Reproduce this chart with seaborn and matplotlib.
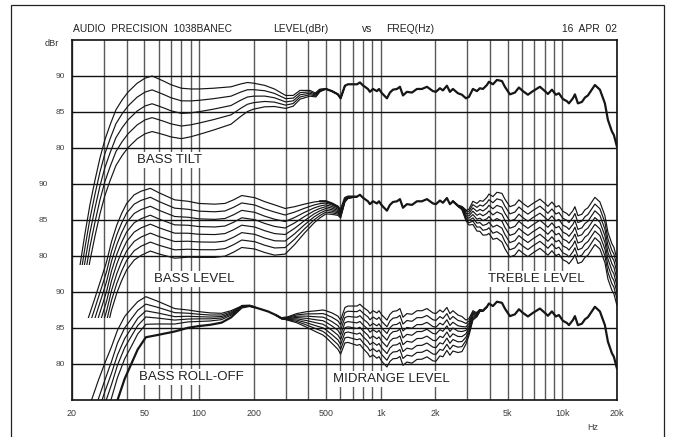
import numpy as np
import pandas as pd
import matplotlib
matplotlib.use("Agg")
import matplotlib.pyplot as plt
from matplotlib.patches import Rectangle
from matplotlib.ticker import FixedLocator, NullFormatter
import seaborn as sns

sns.set_theme(style="white")
plt.rcParams['font.family'] = ['Liberation Sans', 'DejaVu Sans']

# ------------------------------------------------------------------ data
# shared response above 500 Hz, read in the upper panel's dBr scale
BASE_F = [500, 539, 582, 602, 636, 661, 741, 769, 799, 851, 873, 907, 954, 979, 1017,
          1083, 1125, 1169, 1230, 1277, 1327, 1395, 1487, 1584, 1688, 1798, 1940, 2015,
          2120, 2202, 2316, 2406, 2500, 2664, 2802, 2948, 3062, 3220, 3388, 3520, 3656,
          3846, 3944, 4150, 4366, 4652, 4830, 5148, 5484, 5770, 6070, 6466, 6890, 7530,
          8022, 8332, 8766, 9220, 9578, 10076, 10602, 10874, 11438, 11732, 12186, 12820,
          13316, 13832, 15116, 16106, 17158, 17824, 18748, 19228, 19974]
BASE_DB = [88.2, 87.9, 87.45, 86.9, 88.65, 88.85, 88.85, 89.1, 88.7, 88.2, 87.8, 88.2,
           87.9, 88.2, 87.6, 86.9, 87.7, 88.1, 88.2, 88.5, 87.3, 87.8, 87.7, 88.2, 88.2,
           88.5, 87.9, 87.8, 88.3, 88.0, 88.65, 87.8, 88.2, 87.6, 87.4, 86.9, 87.1, 88.2,
           87.9, 88.3, 88.2, 88.75, 89.2, 88.85, 89.45, 89.3, 88.5, 87.45, 87.7, 88.4,
           87.9, 87.4, 87.9, 88.5, 87.9, 87.5, 88.1, 87.4, 87.6, 86.8, 86.5, 86.2, 86.9,
           87.45, 86.2, 86.4, 87.0, 87.3, 88.75, 88.1, 86.2, 83.9, 82.3, 81.8, 80.2]
MID_SHIFT = -0.6     # middle panel sits this much lower than the upper one
BOT_SHIFT = -0.8     # lower panel

# low-frequency part of the reference curve in each panel
TILT_REF_F = [20.5, 22.2, 23.5, 25.1, 26.8, 28.5, 30.3, 32.4, 34.9, 37.8, 40.8, 45.7, 50.5,
              55.2, 60, 65, 70, 80, 90, 100, 120, 150, 170, 185, 200, 230, 260, 300, 330,
              360, 408, 440, 463]
TILT_REF_DB = [57.0, 63.9, 67.9, 72.1, 75.6, 78.6, 81.1, 83.2, 85.3, 86.7, 87.8, 89.0, 89.7,
               90.0, 89.6, 89.2, 88.8, 88.3, 88.2, 88.2, 88.3, 88.5, 88.9, 89.1, 89.0, 88.7,
               88.2, 87.3, 87.3, 88.0, 88.0, 87.6, 88.1]
LEVEL_REF_F = [20, 22, 24.6, 26.7, 29, 31, 33, 35.3, 37.5, 40, 44, 48, 54, 60, 73.5, 87, 100,
               122, 139, 155, 172, 203, 230, 261, 298, 336, 380, 430, 463]
LEVEL_REF_DB = [65.0, 68.0, 71.4, 74.1, 76.9, 79.2, 82.0, 84.3, 85.9, 87.3, 88.5, 89.0, 89.4,
                88.8, 87.8, 87.6, 87.3, 87.2, 87.3, 87.8, 88.4, 88.1, 87.55, 87.1, 86.6,
                86.85, 87.2, 87.5, 87.6]
ROLL_REF_F = [22, 24, 26.2, 28, 30.3, 33, 35.6, 39, 42.5, 46, 51, 60, 73.5, 87, 100, 115, 133,
              150, 172, 190, 203, 220, 240, 265, 285, 300, 345, 392, 445, 480]
ROLL_REF_DB = [70.0, 73.0, 75.7, 77.8, 80.1, 82.4, 84.7, 86.6, 87.7, 88.66, 89.35, 88.66,
               87.7, 87.5, 87.27, 87.1, 87.04, 87.4, 88.06, 88.1, 87.87, 87.6, 87.3, 86.8,
               86.35, 86.45, 87.0, 87.27, 87.4, 87.5]

# family offsets (dB) against the panel reference
TILT_F = [20, 40, 55, 80, 100, 150, 200, 300, 400, 500]
TILT_GAIN = [
    [0.0, 0.0, 0.0, 0.0, 0.0, 0.0, 0.0, 0.0, 0.0, 0.0],
    [-1.95, -1.93, -1.93, -1.75, -1.58, -1.30, -0.90, -0.45, -0.22, 0.0],
    [-3.90, -3.86, -3.86, -3.50, -3.16, -2.60, -1.80, -0.90, -0.44, 0.0],
    [-5.85, -5.79, -5.79, -5.25, -4.74, -3.90, -2.70, -1.35, -0.66, 0.0],
    [-7.80, -7.72, -7.72, -7.00, -6.32, -5.20, -3.60, -1.80, -0.88, 0.0],
]
LEVEL_F = [20, 35, 55, 100, 200, 260, 300, 350, 400, 450, 500, 560, 600, 650, 700]
LEVEL_GAIN = [
    [0.0, 0.0, 0.0, 0.0, 0.0, 0.0, 0.0, 0.0, 0.0, 0.0, 0.0, 0.0, 0.0, 0.0, 0.0],
    [-1.45, -1.35, -1.24, -1.07, -1.02, -1.0, -0.9, -0.7, -0.5, -0.36, -0.25, -0.2, -0.15, -0.05, 0.0],
    [-2.9, -2.7, -2.48, -2.14, -2.04, -2.0, -1.8, -1.4, -1.0, -0.72, -0.5, -0.4, -0.3, -0.1, 0.0],
    [-4.35, -4.05, -3.72, -3.21, -3.06, -3.0, -2.7, -2.1, -1.5, -1.08, -0.75, -0.6, -0.45, -0.15, 0.0],
    [-5.8, -5.4, -4.96, -4.28, -4.08, -4.0, -3.6, -2.8, -2.0, -1.44, -1.0, -0.8, -0.6, -0.2, 0.0],
    [-7.25, -6.75, -6.2, -5.35, -5.1, -5.0, -4.5, -3.5, -2.5, -1.8, -1.25, -1.0, -0.75, -0.25, 0.0],
    [-8.7, -8.1, -7.44, -6.42, -6.12, -6.0, -5.4, -4.2, -3.0, -2.16, -1.5, -1.2, -0.9, -0.3, 0.0],
    [-10.15, -9.45, -8.68, -7.49, -7.14, -7.0, -6.3, -4.9, -3.5, -2.52, -1.75, -1.4, -1.05, -0.35, 0.0],
]
TREBLE_F = [2600, 2800, 2950, 3200, 3600, 4000, 4500, 5000, 20000]
TREBLE_GAIN = [
    [0.0, 0.0, 0.0, 0.0, 0.0, 0.0, 0.0, 0.0, 0.0],
    [0.0, -0.05, -0.2, -0.45, -0.65, -0.8, -0.95, -1.0, -0.92],
    [0.0, -0.1, -0.4, -0.9, -1.3, -1.6, -1.9, -2.0, -1.84],
    [0.0, -0.15, -0.6, -1.35, -1.95, -2.4, -2.85, -3.0, -2.76],
    [0.0, -0.2, -0.8, -1.8, -2.6, -3.2, -3.8, -4.0, -3.68],
    [0.0, -0.25, -1.0, -2.25, -3.25, -4.0, -4.75, -5.0, -4.6],
    [0.0, -0.3, -1.2, -2.7, -3.9, -4.8, -5.7, -6.0, -5.52],
    [0.0, -0.35, -1.4, -3.15, -4.55, -5.6, -6.65, -7.0, -6.44],
]
ROLL_F = [25, 30, 36, 42.6, 48, 52.6, 60, 70, 85, 100, 133, 157, 175, 200]
ROLL_GAIN = [
    [0.0, 0.0, 0.0, 0.0, 0.0, 0.0, 0.0, 0.0, 0.0, 0.0, 0.0, 0.0, 0.0, 0.0],
    [-2.9, -2.4, -1.75, -1.4, -1.1, -1.0, -0.83, -0.6, -0.46, -0.36, -0.23, -0.14, 0.0, 0.0],
    [-4.6, -4.0, -3.4, -2.7, -2.1, -1.9, -1.6, -1.2, -0.9, -0.7, -0.45, -0.28, -0.03, 0.0],
    [-6.5, -5.75, -4.8, -3.8, -3.05, -2.7, -2.3, -1.7, -1.3, -1.0, -0.65, -0.4, -0.05, 0.0],
    [-8.8, -7.8, -6.5, -5.2, -4.1, -3.7, -3.1, -2.3, -1.7, -1.36, -0.88, -0.54, -0.07, 0.0],
    [-13.0, -11.5, -9.6, -7.6, -6.1, -5.4, -4.6, -3.4, -2.55, -2.0, -1.3, -0.8, -0.1, 0.0],
]
MIDR_F = [280, 320, 350, 400, 500, 560, 700, 850, 1000, 1500, 2000, 2500, 2800, 3000, 3200, 3400, 3600]
MIDR_GAIN = [
    [0, 0, 0, 0, 0, 0, 0, 0, 0, 0, 0, 0, 0, 0, 0, 0, 0],
    [0, -0.08, -0.2, -0.33, -0.53, -0.64, -0.75, -0.85, -0.92, -0.97, -0.95, -0.8, -0.7, -0.4, -0.2, -0.07, 0],
    [0, -0.16, -0.4, -0.66, -1.06, -1.28, -1.5, -1.7, -1.84, -1.94, -1.9, -1.6, -1.4, -0.8, -0.4, -0.14, 0],
    [0, -0.24, -0.6, -0.99, -1.59, -1.92, -2.25, -2.55, -2.76, -2.91, -2.85, -2.4, -2.1, -1.2, -0.6, -0.21, 0],
    [0, -0.32, -0.8, -1.32, -2.12, -2.56, -3.0, -3.4, -3.68, -3.88, -3.8, -3.2, -2.8, -1.6, -0.8, -0.28, 0],
    [0, -0.4, -1.0, -1.65, -2.65, -3.2, -3.75, -4.25, -4.6, -4.85, -4.75, -4.0, -3.5, -2.0, -1.0, -0.35, 0],
    [0, -0.48, -1.2, -1.98, -3.18, -3.84, -4.5, -5.1, -5.52, -5.82, -5.7, -4.8, -4.2, -2.4, -1.2, -0.42, 0],
    [0, -0.56, -1.4, -2.31, -3.71, -4.48, -5.25, -5.95, -6.44, -6.79, -6.65, -5.6, -4.9, -2.8, -1.4, -0.49, 0],
]

X_TICKS = [20, 50, 100, 200, 500, 1000, 2000, 5000, 10000, 20000]
X_TICK_LABELS = ["20", "50", "100", "200", "500", "1k", "2k", "5k", "10k", "20k"]
GRID_F = [30, 40, 60, 70, 80, 90, 300, 400, 600, 700, 800, 900,
          3000, 4000, 6000, 7000, 8000, 9000]
Y_LABELS = ["90", "85", "80"]

# panel placement: plotted value = dBr - offset
TOP_OFF, MID_OFF, BOT_OFF = 45.0, 60.0, 75.0
TOP_FLOOR, MID_FLOOR = 63.75, 71.39

# ------------------------------------------------------------------ build curves
def ref_curve(low_f, low_db, shift):
    f = np.array(low_f + BASE_F, dtype=float)
    d = np.array(low_db + [v + shift for v in BASE_DB], dtype=float)
    return f, d

def family(f, d, gf, gains, off, fmin, fmax, name):
    rows = []
    sel = (f >= fmin) & (f <= fmax)
    for k, g in enumerate(gains):
        add = np.interp(np.log10(f), np.log10(gf), g)
        vals = d + add - off
        rows.append(pd.DataFrame({"freq": f[sel], "level": vals[sel], "curve": f"{name}{k}"}))
    return pd.concat(rows, ignore_index=True)

def single(f, d, off, fmin, fmax, name):
    sel = (f >= fmin) & (f <= fmax)
    return pd.DataFrame({"freq": f[sel], "level": d[sel] - off, "curve": name})

top_f, top_d = ref_curve(TILT_REF_F, TILT_REF_DB, 0.0)
mid_f, mid_d = ref_curve(LEVEL_REF_F, LEVEL_REF_DB, MID_SHIFT)
bot_f, bot_d = ref_curve(ROLL_REF_F, ROLL_REF_DB, BOT_SHIFT)

W, H = 674, 437
fig = plt.figure(figsize=(W / 100, H / 100), dpi=100)
ax = fig.add_axes([72 / W, 1 - 400 / H, (617 - 72) / W, 360 / H])
ax.set_xscale("log")

INK = "#161616"
THIN, THICK = 0.85, 1.6

def draw(df, lw, floor=None):
    n0 = len(ax.lines)
    sns.lineplot(data=df, x="freq", y="level", units="curve", estimator=None,
                 color=INK, lw=lw, ax=ax, legend=False, sort=False)
    if floor is not None:
        clip = Rectangle((20, floor), 19980, 60, transform=ax.transData)
        for ln in ax.lines[n0:]:
            ln.set_clip_path(clip)

# upper panel: bass tilt
draw(family(top_f, top_d, TILT_F, TILT_GAIN, TOP_OFF, 0, 640, "tilt"), THIN, TOP_FLOOR - TOP_OFF)
draw(single(top_f, top_d, TOP_OFF, 440, 20001, "top_common"), THICK)
# middle panel: bass level + treble level
draw(family(mid_f, mid_d, LEVEL_F, LEVEL_GAIN, MID_OFF, 0, 745, "level"), THIN, MID_FLOOR - MID_OFF)
draw(single(mid_f, mid_d, MID_OFF, 460, 2960, "mid_common"), THICK)
draw(family(mid_f, mid_d, TREBLE_F, TREBLE_GAIN, MID_OFF, 2500, 20001, "treble"), THIN)
# lower panel: bass roll-off + midrange level
roll = family(bot_f, bot_d, ROLL_F, ROLL_GAIN, BOT_OFF, 0, 205, "roll")
draw(roll[roll.curve != "roll5"], THIN)
draw(roll[roll.curve == "roll5"], THICK)
draw(single(bot_f, bot_d, BOT_OFF, 170, 320, "bot_common1"), THICK)
draw(family(bot_f, bot_d, MIDR_F, MIDR_GAIN, BOT_OFF, 265, 3900, "midr"), THIN)
draw(single(bot_f, bot_d, BOT_OFF, 3380, 20001, "bot_common2"), THICK)

# ------------------------------------------------------------------ axes styling
ax.set_xlim(20, 20000)
ax.set_ylim(0, 50)
ax.set_xlabel("")
ax.set_ylabel("")
ax.set_xticks(X_TICKS)
ax.set_xticklabels(X_TICK_LABELS)
ax.xaxis.set_minor_locator(FixedLocator(GRID_F))
ax.xaxis.set_minor_formatter(NullFormatter())
ax.set_yticks([5, 10, 15, 20, 25, 30, 35, 40, 45])
ax.set_yticklabels([])
ax.tick_params(axis="both", which="both", length=0)
ax.tick_params(axis="x", pad=6.5, labelsize=6.4, labelcolor="#3a3a3a")
ax.grid(True, axis="x", which="both", color="#5a5a5a", lw=1.0)
ax.grid(True, axis="y", which="major", color="#111111", lw=1.0)
ax.set_axisbelow(True)
for s in ax.spines.values():
    s.set_color("#111111")
    s.set_linewidth(1.2)

# panel level labels
ytrans = ax.get_yaxis_transform()
for off, xpix in ((TOP_OFF, 65), (MID_OFF, 48), (BOT_OFF, 65)):
    for lab in Y_LABELS:
        ax.text((xpix - 72) / (617 - 72), float(lab) - off, lab, transform=ytrans,
                fontsize=6.0, color="#444444", ha="right", va="center")

def ftext(x, y, s, **kw):
    fig.text(x / W, 1 - y / H, s, **kw)

ftext(52, 44, "dBr", fontsize=6.6, color="#333333", ha="center", va="center")
hdr = dict(fontsize=7.4, color="#222222", va="center")
ftext(73, 29, "AUDIO  PRECISION  1038BANEC", ha="left", **hdr)
ftext(273, 29, "LEVEL(dBr)", ha="left", **hdr)
ftext(362, 29, "vs", ha="left", **hdr)
ftext(386, 29, "FREQ(Hz)", ha="left", **hdr)
ftext(617, 29, "16  APR  02", ha="right", **hdr)
ftext(593, 428, "Hz", fontsize=6.4, color="#3a3a3a", ha="center", va="center")

box = dict(boxstyle="square,pad=0.18", facecolor="white", edgecolor="none")
lab = dict(fontsize=9.5, color="#222222", ha="left", va="baseline", bbox=box)
ftext(137, 163, "BASS TILT", **lab)
ftext(154, 282, "BASS LEVEL", **lab)
ftext(488, 282, "TREBLE LEVEL", **lab)
ftext(139, 380, "BASS ROLL-OFF", **lab)
ftext(333, 382, "MIDRANGE LEVEL", **lab)

# outer frame
fig.patches.append(Rectangle((11.3 / W, -0.05), (664.3 - 11.3) / W, 1.05 - 5 / H,
                             transform=fig.transFigure, fill=False, edgecolor="#222222",
                             lw=0.9))

fig.savefig("out.png", dpi=100)
